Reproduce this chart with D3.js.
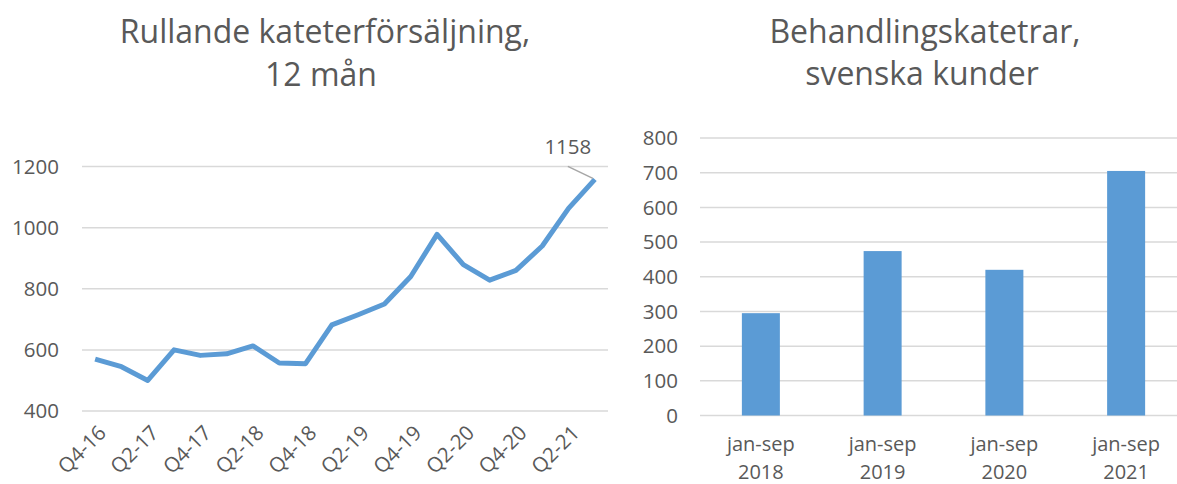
<!DOCTYPE html>
<html>
<head>
<meta charset="utf-8">
<script src="https://cdn.jsdelivr.net/npm/d3@7"></script>
<style>
  body { margin: 0; background: #fff; }
  svg { display: block; font-family: "Open Sans", Lato, sans-serif; }
  .grid line { stroke: #d9d9d9; stroke-width: 1.5; }
  .tick-label { fill: #595959; font-size: 20.5px; }
  .title { fill: #595959; font-size: 32px; text-anchor: middle; }
</style>
</head>
<body>
<div id="chart"></div>
<script>
// chart data
var quarters = ["Q4-16", "Q1-17", "Q2-17", "Q3-17", "Q4-17", "Q1-18", "Q2-18", "Q3-18", "Q4-18", "Q1-19",
    "Q2-19", "Q3-19", "Q4-19", "Q1-20", "Q2-20", "Q3-20", "Q4-20", "Q1-21", "Q2-21", "Q3-21"];
var sales = [570, 545, 500, 600, 582, 587, 613, 557, 555, 682, 715, 750, 840, 978, 879, 828, 860, 940, 1063, 1158];
var salesTicks = [400, 600, 800, 1000, 1200];

var periods = ["jan-sep 2018", "jan-sep 2019", "jan-sep 2020", "jan-sep 2021"];
var customers = [295, 474, 420, 705];
var customerTicks = [0, 100, 200, 300, 400, 500, 600, 700, 800];

var blue = "#5b9bd5";

var w = 1177,
    h = 484;

var svg = d3.select("#chart")
    .append("svg")
    .attr("width", w)
    .attr("height", h);

// ---- left: line chart ----
var x1 = d3.scaleBand().domain(quarters).range([82, 608]);
var y1 = d3.scaleLinear().domain([400, 1200]).range([411, 166.5]);

var left = svg.append("g");

left.append("text").attr("class", "title").attr("x", 325).attr("y", 43).text("Rullande kateterförsäljning,");
left.append("text").attr("class", "title").attr("x", 321).attr("y", 86).text("12 mån");

left.append("g")
    .attr("class", "grid")
    .selectAll("line")
    .data(salesTicks)
    .enter()
    .append("line")
    .attr("x1", x1.range()[0])
    .attr("x2", x1.range()[1])
    .attr("y1", function(d) { return y1(d); })
    .attr("y2", function(d) { return y1(d); });

left.selectAll(".ylab")
    .data(salesTicks)
    .enter()
    .append("text")
    .attr("class", "tick-label")
    .attr("text-anchor", "end")
    .attr("x", 59)
    .attr("y", function(d) { return y1(d); })
    .attr("dy", "0.35em")
    .text(function(d) { return d; });

// every second quarter is labelled
left.selectAll(".xlab")
    .data(quarters.filter(function(d, i) { return i % 2 == 0; }))
    .enter()
    .append("text")
    .attr("class", "tick-label")
    .attr("text-anchor", "end")
    .attr("transform", function(d) {
        return "translate(" + (x1(d) + x1.bandwidth() / 2 + 2) + ",424) rotate(-45)";
    })
    .attr("dy", "0.7em")
    .text(function(d) { return d; });

var line = d3.line()
    .x(function(d, i) { return x1(quarters[i]) + x1.bandwidth() / 2; })
    .y(function(d) { return y1(d); });

left.append("path")
    .datum(sales)
    .attr("d", line)
    .attr("fill", "none")
    .attr("stroke", blue)
    .attr("stroke-width", 5)
    .attr("stroke-linejoin", "round");

// label on last point
var lastI = sales.length - 1;
var lx = x1(quarters[lastI]) + x1.bandwidth() / 2,
    ly = y1(sales[lastI]);
left.append("line")
    .attr("x1", lx - 27).attr("y1", ly - 13)
    .attr("x2", lx - 2).attr("y2", ly - 1)
    .attr("stroke", "#a6a6a6")
    .attr("stroke-width", 1.5);
left.append("text")
    .attr("class", "tick-label")
    .attr("text-anchor", "middle")
    .attr("x", lx - 27)
    .attr("y", ly - 25)
    .text(sales[lastI]);

// ---- right: bar chart ----
var x2 = d3.scaleBand().domain(periods).range([700, 1187]);
var y2 = d3.scaleLinear().domain([0, 800]).range([415.5, 138]);

var right = svg.append("g");

right.append("text").attr("class", "title").attr("x", 925).attr("y", 43).text("Behandlingskatetrar,");
right.append("text").attr("class", "title").attr("x", 922).attr("y", 85).text("svenska kunder");

right.append("g")
    .attr("class", "grid")
    .selectAll("line")
    .data(customerTicks)
    .enter()
    .append("line")
    .attr("x1", x2.range()[0])
    .attr("x2", x2.range()[1])
    .attr("y1", function(d) { return y2(d); })
    .attr("y2", function(d) { return y2(d); });

right.selectAll(".ylab")
    .data(customerTicks)
    .enter()
    .append("text")
    .attr("class", "tick-label")
    .attr("text-anchor", "end")
    .attr("x", 678)
    .attr("y", function(d) { return y2(d); })
    .attr("dy", "0.35em")
    .text(function(d) { return d; });

var barW = 38;
right.selectAll("rect")
    .data(customers)
    .enter()
    .append("rect")
    .attr("x", function(d, i) { return x2(periods[i]) + x2.bandwidth() / 2 - barW / 2; })
    .attr("y", function(d) { return y2(d); })
    .attr("width", barW)
    .attr("height", function(d) { return y2(0) - y2(d); })
    .attr("fill", blue);

var xl = right.selectAll(".xlab")
    .data(periods)
    .enter()
    .append("text")
    .attr("class", "tick-label")
    .style("font-size", "20px")
    .attr("text-anchor", "middle")
    .attr("x", function(d) { return x2(d) + x2.bandwidth() / 2; })
    .attr("y", 451);

xl.append("tspan")
    .text(function(d) { return d.split(" ")[0]; });
xl.append("tspan")
    .attr("x", function(d) { return x2(d) + x2.bandwidth() / 2; })
    .attr("y", 479)
    .text(function(d) { return d.split(" ")[1]; });
</script>
</body>
</html>
